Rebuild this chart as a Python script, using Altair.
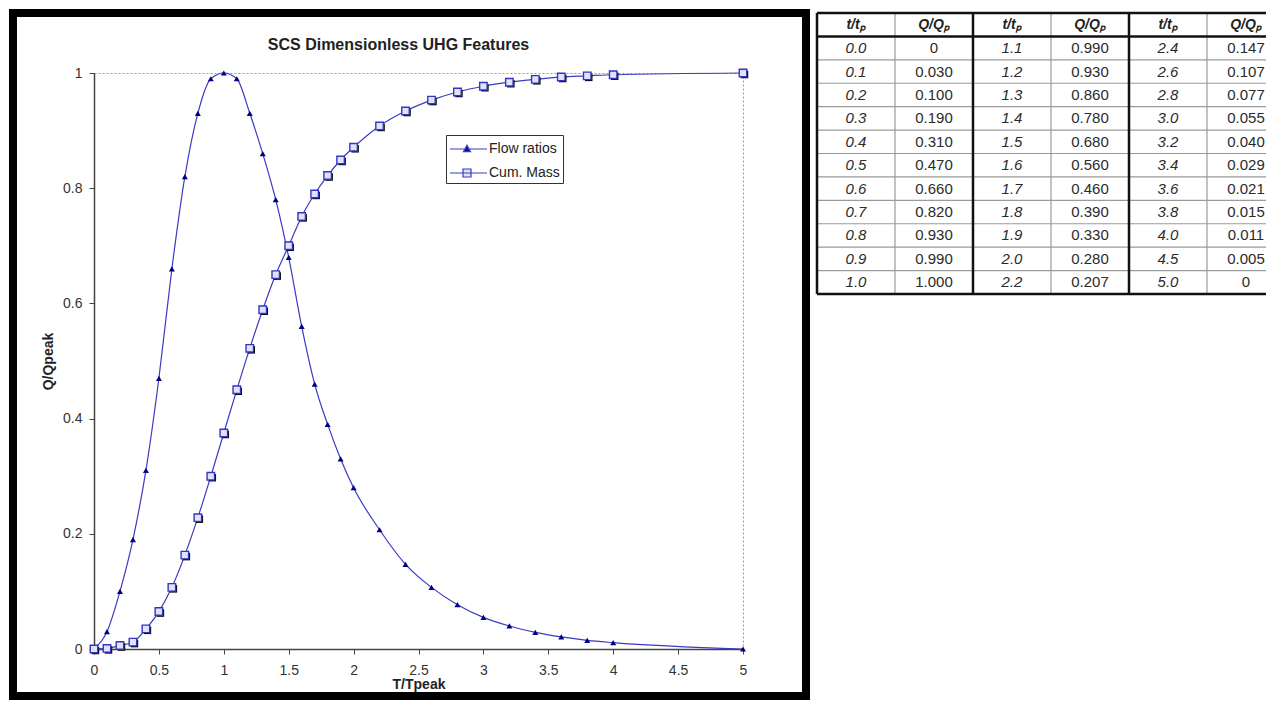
import altair as alt
import pandas as pd

# ---------------- data ----------------
t_chart = [0.0, 0.1, 0.2, 0.3, 0.4, 0.5, 0.6, 0.7, 0.8, 0.9, 1.0,
           1.1, 1.2, 1.3, 1.4, 1.5, 1.6, 1.7, 1.8, 1.9, 2.0,
           2.2, 2.4, 2.6, 2.8, 3.0, 3.2, 3.4, 3.6, 3.8, 4.0, 5.0]
flow_ratios = [0, 0.030, 0.100, 0.190, 0.310, 0.470, 0.660, 0.820, 0.930, 0.990, 1.000,
               0.990, 0.930, 0.860, 0.780, 0.680, 0.560, 0.460, 0.390, 0.330, 0.280,
               0.207, 0.147, 0.107, 0.077, 0.055, 0.040, 0.029, 0.021, 0.015, 0.011, 0]
cum_mass = [0, 0.001, 0.006, 0.012, 0.035, 0.065, 0.107, 0.163, 0.228, 0.300, 0.375,
            0.450, 0.522, 0.589, 0.650, 0.700, 0.751, 0.790, 0.822, 0.849, 0.871,
            0.908, 0.934, 0.953, 0.967, 0.977, 0.984, 0.989, 0.993, 0.995, 0.997, 1.000]
series_names = ["Flow ratios", "Cum. Mass"]

x_ticks = [0, 0.5, 1, 1.5, 2, 2.5, 3, 3.5, 4, 4.5, 5]
y_ticks = [0, 0.2, 0.4, 0.6, 0.8, 1]

table_header = ["t/t\u209a", "Q/Q\u209a", "t/t\u209a", "Q/Q\u209a", "t/t\u209a", "Q/Q\u209a"]
table_t = ["0.0", "0.1", "0.2", "0.3", "0.4", "0.5", "0.6", "0.7", "0.8", "0.9", "1.0",
           "1.1", "1.2", "1.3", "1.4", "1.5", "1.6", "1.7", "1.8", "1.9", "2.0", "2.2",
           "2.4", "2.6", "2.8", "3.0", "3.2", "3.4", "3.6", "3.8", "4.0", "4.5", "5.0"]
table_q = ["0", "0.030", "0.100", "0.190", "0.310", "0.470", "0.660", "0.820", "0.930", "0.990", "1.000",
           "0.990", "0.930", "0.860", "0.780", "0.680", "0.560", "0.460", "0.390", "0.330", "0.280", "0.207",
           "0.147", "0.107", "0.077", "0.055", "0.040", "0.029", "0.021", "0.015", "0.011", "0.005", "0"]

# ---------------- styles ----------------
FONT = "Liberation Sans"
LINE = "#3a3ac4"
TRI_FILL = "#000080"
SQ_FILL = "#dfe3ff"
# legend glyphs: a short line with the series marker on it
TRI_PATH = "M-1,0H2.7M0.7,-0.37L1.05,0.27L0.35,0.27Z"
SQ_PATH = "M-1,0H2.7M0.3,-0.4H1.1V0.4H0.3Z"

flow_df = pd.DataFrame({"t": t_chart, "q": flow_ratios})
mass_df = pd.DataFrame({"t": t_chart, "q": cum_mass})
legend_df = pd.DataFrame({"t": [0, 0], "q": [0, 0], "series": series_names})

axis_style = dict(grid=False, tickSize=5, labelFlush=False,
                  domainColor="#444", tickColor="#444", domainWidth=1.5,
                  labelColor="#333", labelFontSize=14, titleFontSize=14,
                  titleFontWeight="bold", titleColor="#222")
X = alt.X("t:Q", scale=alt.Scale(domain=[0, 5], nice=False),
          axis=alt.Axis(values=x_ticks, format="~g", title="T/Tpeak",
                        labelPadding=9, titlePadding=0, **axis_style))
Y = alt.Y("q:Q", scale=alt.Scale(domain=[0, 1], nice=False),
          axis=alt.Axis(values=y_ticks, format="~g", title="Q/Qpeak",
                        labelPadding=7, titlePadding=7, **axis_style))

frame = alt.Chart(pd.DataFrame({"k": [0]})).mark_rect(
    filled=False, stroke="black", strokeWidth=8
).encode(x=alt.value(-81), x2=alt.value(712), y=alt.value(-60), y2=alt.value(623))

flow_line = alt.Chart(flow_df).mark_line(color=LINE, strokeWidth=1.2, interpolate="monotone").encode(x=X, y=Y)
mass_line = alt.Chart(mass_df).mark_line(color=LINE, strokeWidth=1.2, interpolate="monotone").encode(x=X, y=Y)
tri = alt.Chart(flow_df).mark_point(shape="triangle-up", filled=True, color=TRI_FILL,
                                    size=36, opacity=1).encode(x=X, y=Y)
shadow = alt.Chart(mass_df).mark_point(shape="square", filled=True, color="black",
                                       size=56, opacity=1, xOffset=1.5, yOffset=1.5).encode(x=X, y=Y)
sq = alt.Chart(mass_df).mark_point(shape="square", fill=SQ_FILL, stroke="#3535c0",
                                   strokeWidth=1.4, size=56, opacity=1).encode(x=X, y=Y)

leg = alt.Legend(title=None, orient="none", legendX=352, legendY=62,
                 strokeColor="#333", fillColor="white", padding=3, rowPadding=6,
                 labelFont=FONT, labelFontSize=14, labelColor="#222", labelOffset=18,
                 symbolSize=400, symbolOpacity=1, symbolStrokeWidth=1.2)
legend_layer = alt.Chart(legend_df).mark_point(opacity=0).encode(
    x=X, y=Y,
    shape=alt.Shape("series:N", scale=alt.Scale(domain=series_names, range=[TRI_PATH, SQ_PATH]), legend=leg),
    fill=alt.Fill("series:N", scale=alt.Scale(domain=series_names, range=[TRI_FILL, SQ_FILL]), legend=leg),
    stroke=alt.Stroke("series:N", scale=alt.Scale(domain=series_names, range=[LINE, LINE]), legend=leg),
)

left = alt.layer(frame, flow_line, mass_line, tri, shadow, sq, legend_layer).properties(
    width=649, height=576,
    title=alt.TitleParams("SCS Dimensionless UHG Features", fontSize=16, fontWeight="bold",
                          color="#222", dx=-20, offset=-44, anchor="middle", frame="group", font=FONT),
    view=alt.ViewBackground(stroke="#999", strokeDash=[2, 2]),
)

# ---------------- table ----------------
cells = []
for c, h in enumerate(table_header):
    cells.append({"cx": c + 0.5, "cy": 0.5, "txt": h, "kind": "h"})
for i, (tv, qv) in enumerate(zip(table_t, table_q)):
    g, r = divmod(i, 11)
    cells.append({"cx": 2 * g + 0.5, "cy": r + 1.5, "txt": tv, "kind": "t"})
    cells.append({"cx": 2 * g + 1.5, "cy": r + 1.5, "txt": qv, "kind": "q"})
cells_df = pd.DataFrame(cells)

TABLE_W = 449
COL_W = 78
n_rows = 12
n_cols_visible = TABLE_W / COL_W
hl_df = pd.DataFrame({"y": list(range(n_rows + 1)), "x0": 0.0, "x1": n_cols_visible})
hl_df["thick"] = hl_df["y"].isin([0, 1, n_rows])
vl_df = pd.DataFrame({"x": list(range(6)), "y0": 0, "y1": n_rows})
vl_df["thick"] = vl_df["x"].isin([0, 2, 4])

TX = alt.Scale(domain=[0, n_cols_visible], nice=False, zero=False)
TY = alt.Scale(domain=[0, n_rows], nice=False, zero=False, range=[-60, 221])

def tx(f):
    return alt.X(f, scale=TX, axis=None)

def ty(f):
    return alt.Y(f, scale=TY, axis=None)

thin_h = alt.Chart(hl_df).transform_filter("!datum.thick").mark_rule(color="#9a9a9a", strokeWidth=1.2).encode(
    x=tx("x0:Q"), x2="x1:Q", y=ty("y:Q"))
thin_v = alt.Chart(vl_df).transform_filter("!datum.thick").mark_rule(color="#9a9a9a", strokeWidth=1.2).encode(
    x=tx("x:Q"), y=ty("y0:Q"), y2="y1:Q")
thick_h = alt.Chart(hl_df).transform_filter("datum.thick").mark_rule(color="#111", strokeWidth=2.5).encode(
    x=tx("x0:Q"), x2="x1:Q", y=ty("y:Q"))
thick_v = alt.Chart(vl_df).transform_filter("datum.thick").mark_rule(color="#111", strokeWidth=2.5).encode(
    x=tx("x:Q"), y=ty("y0:Q"), y2="y1:Q")

txt_h = alt.Chart(cells_df).transform_filter("datum.kind == 'h'").mark_text(
    font=FONT, fontSize=14, fontWeight="bold", fontStyle="italic", color="#222").encode(
    x=tx("cx:Q"), y=ty("cy:Q"), text="txt:N")
txt_t = alt.Chart(cells_df).transform_filter("datum.kind == 't'").mark_text(
    font=FONT, fontSize=15, fontStyle="italic", color="#2b2b2b").encode(
    x=tx("cx:Q"), y=ty("cy:Q"), text="txt:N")
txt_q = alt.Chart(cells_df).transform_filter("datum.kind == 'q'").mark_text(
    font=FONT, fontSize=15, color="#2b2b2b").encode(
    x=tx("cx:Q"), y=ty("cy:Q"), text="txt:N")

table = alt.layer(thin_h, thin_v, thick_h, thick_v, txt_h, txt_t, txt_q).properties(
    width=TABLE_W, height=221, view=alt.ViewBackground(strokeOpacity=0))

chart = alt.hconcat(left, table, spacing=4).properties(padding=0).configure(
    font=FONT, background="white")

chart.save("out.html", embed_options={"renderer": "svg", "actions": False})
